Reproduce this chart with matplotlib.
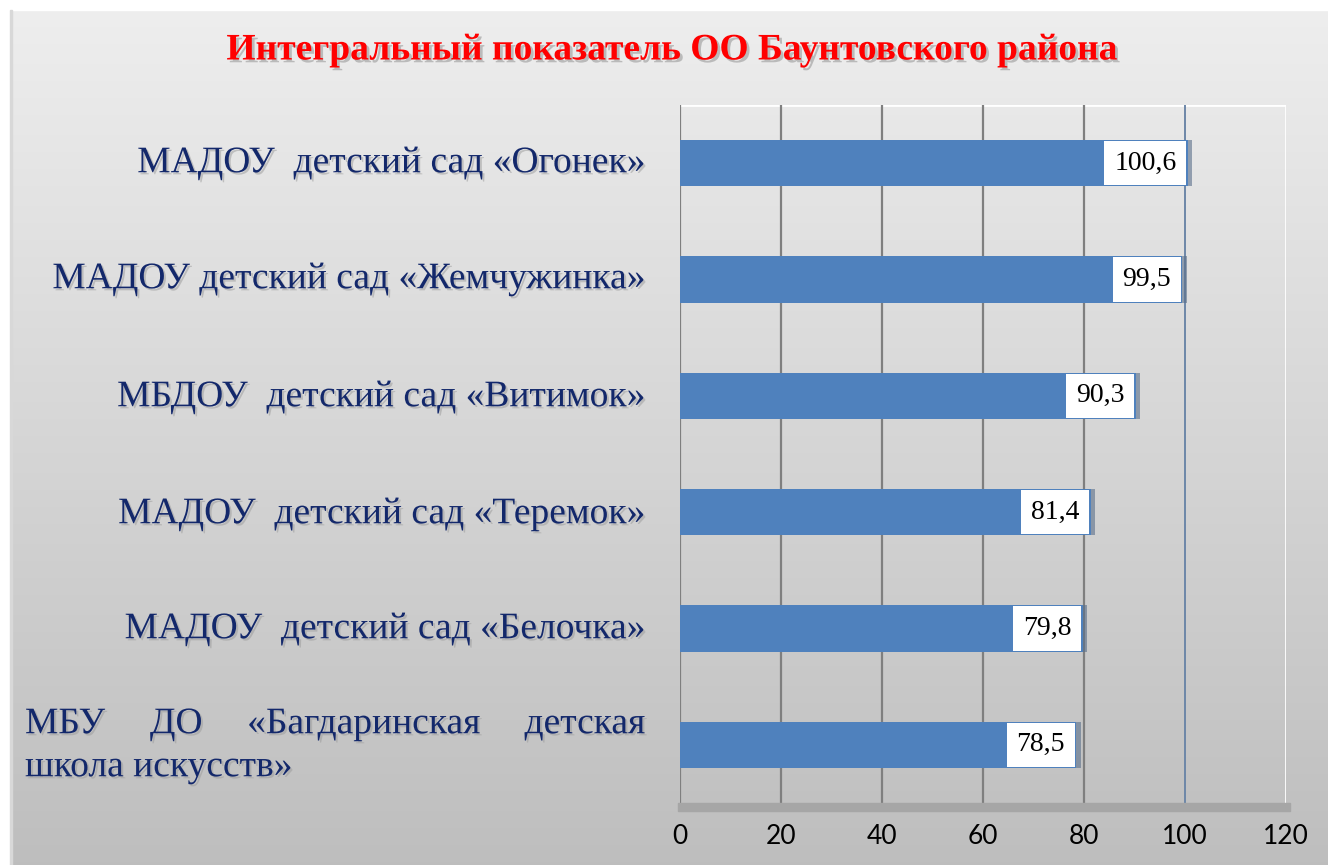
import matplotlib
matplotlib.use("Agg")
import matplotlib.pyplot as plt
import matplotlib.patheffects as pe
from matplotlib.patches import Rectangle
import numpy as np

title = "Интегральный показатель ОО Баунтовского района"
categories = [
    "МАДОУ  детский сад «Огонек»",
    "МАДОУ детский сад «Жемчужинка»",
    "МБДОУ  детский сад «Витимок»",
    "МАДОУ  детский сад «Теремок»",
    "МАДОУ  детский сад «Белочка»",
    "МБУ ДО «Багдаринская детская школа искусств»",
]
values = [100.6, 99.5, 90.3, 81.4, 79.8, 78.5]
xticks = [0, 20, 40, 60, 80, 100, 120]

W, H = 1328, 865
fig = plt.figure(figsize=(W / 100, H / 100), dpi=100)

def fx(x):
    return x / W

def fy(y):
    return 1 - y / H

# background gradient
bg = fig.add_axes([0, 0, 1, 1], zorder=-10)
grad = np.linspace(0, 1, 256)[:, None]
top = np.array([0.935, 0.935, 0.935])
bot = np.array([0.745, 0.745, 0.745])
img = top[None, None, :] * (1 - grad[:, :, None]) + bot[None, None, :] * grad[:, :, None]
bg.imshow(img, aspect="auto", extent=[0, 1, 0, 1])
bg.add_patch(Rectangle((0, 0), fx(10), 1, color="white", zorder=2))
bg.add_patch(Rectangle((0, fy(10)), 1, 1, color="white", zorder=2))
bg.add_patch(Rectangle((fx(10), 0), fx(2), fy(10), color="#d8d8d8", zorder=2))
bg.set_xlim(0, 1)
bg.set_ylim(0, 1)
bg.axis("off")

ax = fig.add_axes([fx(680), fy(803), fx(1286 - 680), (803 - 105) / H])
ax.patch.set_alpha(0)
y = np.arange(len(categories))[::-1]
bars = ax.barh(y, values, height=0.4, color="#4f81bd", zorder=3,
               path_effects=[pe.SimplePatchShadow(offset=(3, 0), shadow_rgbFace="#5a6f8a", alpha=0.6), pe.Normal()])
ax.set_xlim(0, 120)
ax.set_ylim(-0.5, len(categories) - 0.5)
for t in xticks:
    if t == 100:
        ax.axvline(t, color="#6d87a8", lw=1.4, zorder=2)
    elif t == 120:
        ax.axvline(t, color="white", lw=2, zorder=2)
    else:
        ax.axvline(t, color="#7f7f7f", lw=1.6, zorder=2)
ax.axhline(len(categories) - 0.5, color="white", lw=2, zorder=1)
for s in ax.spines.values():
    s.set_visible(False)
ax.set_yticks([])
ax.set_xticks(xticks)
ax.set_xticklabels([str(t) for t in xticks], fontsize=19, family=["Lato", "DejaVu Sans"], color="black")
ax.tick_params(axis="x", length=0, pad=15)

# floor
fig.patches.append(Rectangle((fx(678), fy(811)), fx(1290 - 678), 8 / H, transform=fig.transFigure,
                             color="#a6a6a6", zorder=1))

for yi, v in zip(y, values):
    ax.text(v - 2.3, yi, f"{v:.1f}".replace(".", ","), ha="right", va="center",
            fontsize=20, family="Liberation Serif", color="black", zorder=5,
            bbox=dict(boxstyle="square,pad=0.35", fc="white", ec="none"))

navy = "#13286b"
shadow = [pe.withSimplePatchShadow(offset=(1.5, -1.5), shadow_rgbFace="#9a9a9a", alpha=0.5)]
row_px = [163, 279, 397, 514, 629]
for lab, py in zip(categories[:5], row_px):
    fig.text(fx(645), fy(py), lab, ha="right", va="center", fontsize=27,
             family="Liberation Serif", color=navy, path_effects=shadow)

# justified last label
words = ["МБУ", "ДО", "«Багдаринская", "детская"]
fig.canvas.draw()
r = fig.canvas.get_renderer()
tmp = [fig.text(0, 0, w, fontsize=27, family="Liberation Serif") for w in words]
widths = [t.get_window_extent(r).width for t in tmp]
for t in tmp:
    t.remove()
x0, x1 = 25, 645
gap = (x1 - x0 - sum(widths)) / (len(words) - 1)
cx = x0
for w, wd in zip(words, widths):
    fig.text(fx(cx), fy(724), w, ha="left", va="center", fontsize=27,
             family="Liberation Serif", color=navy, path_effects=shadow)
    cx += wd + gap
fig.text(fx(25), fy(767), "школа искусств»", ha="left", va="center", fontsize=27,
         family="Liberation Serif", color=navy, path_effects=shadow)

fig.text(fx(672), fy(50), title, ha="center", va="center", fontsize=27, fontweight="bold",
         family="Liberation Serif", color="#ff0000",
         path_effects=[pe.withSimplePatchShadow(offset=(2, -2), shadow_rgbFace="#8a8a8a", alpha=0.5)])

fig.savefig("out.png", dpi=100)
